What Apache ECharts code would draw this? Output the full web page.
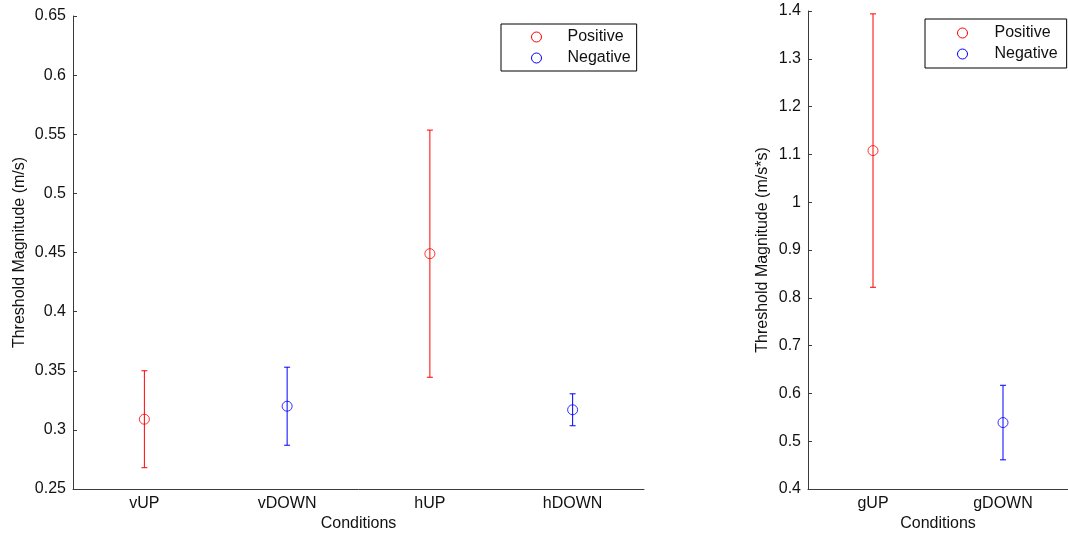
<!DOCTYPE html>
<html>
<head>
<meta charset="utf-8">
<script src="https://cdn.jsdelivr.net/npm/echarts@6/dist/echarts.min.js"></script>
<style>
html,body{margin:0;padding:0;background:#fff;}
#chart{width:1068px;height:537px;}
</style>
</head>
<body>
<div id="chart"></div>
<script>
// ---- data ----
const leftCategories = ['vUP', 'vDOWN', 'hUP', 'hDOWN'];
const leftPositive = [0.309, null, 0.449, null];
const leftPositiveErr = [0.041, null, 0.1045, null];
const leftNegative = [null, 0.320, null, 0.317];
const leftNegativeErr = [null, 0.033, null, 0.0135];

const rightCategories = ['gUP', 'gDOWN'];
const rightPositive = [1.108, null];
const rightPositiveErr = [0.286, null];
const rightNegative = [null, 0.539];
const rightNegativeErr = [null, 0.078];

const leftYTicks = { min: 0.25, max: 0.65, interval: 0.05 };
const rightYTicks = { min: 0.4, max: 1.4, interval: 0.1 };

const seriesNames = ['Positive', 'Negative'];
const leftYName = 'Threshold Magnitude (m/s)';
const rightYName = 'Threshold Magnitude (m/s*s)';
const xName = 'Conditions';

// ---- helpers ----
const FONT = "'Liberation Sans', Arial, Helvetica, sans-serif";
const AXIS_COLOR = '#3a3a3a';
const RED = '#ff0000', BLUE = '#0000ff';
const seriesColors = { Positive: RED, Negative: BLUE };

function pts(vals) {
  return vals.map((v, i) => v == null ? null : [i, v]).filter(d => d);
}
function errs(vals, e) {
  return vals.map((v, i) => v == null ? null : [i, v - e[i], v + e[i]]).filter(d => d);
}
function errSeries(name, data, color, idx) {
  return {
    type: 'custom', name: name, xAxisIndex: idx, yAxisIndex: idx,
    data: data, encode: { x: 0, y: [1, 2] }, silent: true, z: 2,
    itemStyle: { color: color },
    renderItem: function (params, api) {
      const lo = api.coord([api.value(0), api.value(1)]);
      const hi = api.coord([api.value(0), api.value(2)]);
      const cw = 3;
      const st = { stroke: color, lineWidth: 1, fill: null };
      return {
        type: 'group',
        children: [
          { type: 'line', shape: { x1: lo[0], y1: lo[1], x2: hi[0], y2: hi[1] }, style: st },
          { type: 'line', shape: { x1: lo[0] - cw, y1: lo[1], x2: lo[0] + cw, y2: lo[1] }, style: st },
          { type: 'line', shape: { x1: hi[0] - cw, y1: hi[1], x2: hi[0] + cw, y2: hi[1] }, style: st }
        ]
      };
    }
  };
}
function markerSeries(name, data, color, idx) {
  return {
    type: 'scatter', name: name, xAxisIndex: idx, yAxisIndex: idx,
    data: data, symbol: 'circle', symbolSize: 10, z: 3,
    itemStyle: { color: 'rgba(0,0,0,0)', borderColor: color, borderWidth: 1 }
  };
}
function xAxisDef(cats, idx) {
  return {
    type: 'category', gridIndex: idx, data: cats,
    name: xName, nameLocation: 'middle', nameGap: 27, nameMoveOverlap: false,
    nameTextStyle: { fontFamily: FONT, fontSize: 16, color: '#111' },
    axisLine: { lineStyle: { color: AXIS_COLOR, width: 1 } },
    axisTick: { alignWithLabel: true, inside: true, length: 5, lineStyle: { color: AXIS_COLOR } },
    axisLabel: { fontFamily: FONT, fontSize: 16, color: '#111', margin: 7 },
    splitLine: { show: false }
  };
}
function yAxisDef(t, name, gap, idx) {
  return {
    type: 'value', gridIndex: idx, min: t.min, max: t.max, interval: t.interval,
    name: name, nameLocation: 'middle', nameGap: gap, nameRotate: 90, nameMoveOverlap: false,
    nameTextStyle: { fontFamily: FONT, fontSize: 16, color: '#111' },
    axisLine: { show: true, lineStyle: { color: AXIS_COLOR, width: 1 } },
    axisTick: { show: true, inside: true, length: 4, lineStyle: { color: AXIS_COLOR } },
    axisLabel: { fontFamily: FONT, fontSize: 16, color: '#111', margin: 7,
      formatter: v => String(parseFloat(v.toFixed(4))) },
    splitLine: { show: false }
  };
}
function legendDef(left, top, padding, textPad, itemGap) {
  return {
    orient: 'vertical', left: left, top: top,
    data: seriesNames.map(n => ({
      name: n, icon: 'circle',
      itemStyle: { color: 'rgba(0,0,0,0)', borderColor: seriesColors[n], borderWidth: 1 }
    })),
    borderColor: '#000', borderWidth: 1, borderRadius: 0,
    backgroundColor: '#fff', padding: padding, itemGap: itemGap,
    itemWidth: 10, itemHeight: 10, selectedMode: false,
    textStyle: { fontFamily: FONT, fontSize: 16, color: '#111', padding: [0, 0, 0, textPad] }
  };
}

const chart = echarts.init(document.getElementById('chart'), null, { renderer: 'canvas' });
chart.setOption({
  animation: false,
  backgroundColor: '#fff',
  grid: [
    { left: 73, top: 16, width: 571, height: 476, containLabel: false },
    { left: 808, top: 11, width: 266, height: 480, containLabel: false }
  ],
  legend: [
    legendDef(501, 24, [5, 6, 5, 30], 21, 5),
    legendDef(925, 19, [6, 9, 6, 32], 22, 5)
  ],
  xAxis: [xAxisDef(leftCategories, 0), xAxisDef(rightCategories, 1)],
  yAxis: [yAxisDef(leftYTicks, leftYName, 45, 0), yAxisDef(rightYTicks, rightYName, 37, 1)],
  series: [
    errSeries('Positive', errs(leftPositive, leftPositiveErr), RED, 0),
    errSeries('Negative', errs(leftNegative, leftNegativeErr), BLUE, 0),
    markerSeries('Positive', pts(leftPositive), RED, 0),
    markerSeries('Negative', pts(leftNegative), BLUE, 0),
    errSeries('Positive', errs(rightPositive, rightPositiveErr), RED, 1),
    errSeries('Negative', errs(rightNegative, rightNegativeErr), BLUE, 1),
    markerSeries('Positive', pts(rightPositive), RED, 1),
    markerSeries('Negative', pts(rightNegative), BLUE, 1)
  ]
});
</script>
</body>
</html>
